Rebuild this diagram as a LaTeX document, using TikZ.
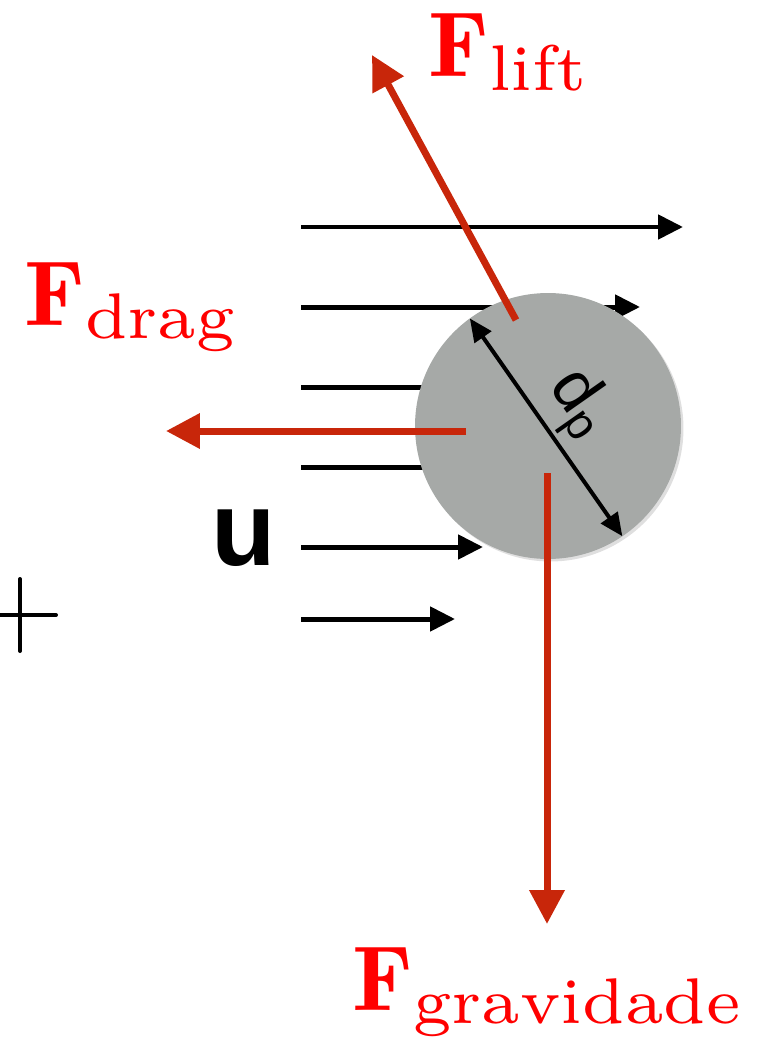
\RequirePackage{fix-cm}
\documentclass[tikz,border=0pt]{standalone}
\usepackage{fontspec}
\newfontfamily\helv{Liberation Sans}
\usepackage{xcolor}
\usetikzlibrary{arrows.meta, shadows, calc}
\definecolor{forcered}{RGB}{200,38,10}
\definecolor{labelred}{RGB}{255,0,0}
\definecolor{particlegray}{RGB}{166,169,167}
\newcommand{\forcelabel}[1]{\scalebox{5.5}[5.25]{$\mathbf{F}_{\mathrm{#1}}$}}

\begin{document}
\begin{tikzpicture}[
    x=0.02cm, y=-0.02cm,
    flow/.style={-{Triangle[length=0.5cm, width=0.48cm]}, line width=0.1cm},
    force/.style={-{Triangle[length=0.68cm, width=0.68cm]}, line width=0.14cm, draw=forcered},
    dimarr/.style={{Triangle[length=0.46cm, width=0.4cm]}-{Triangle[length=0.46cm, width=0.4cm]}, line width=0.08cm},
    particle/.style={circle, fill=particlegray, minimum size=5.32cm, inner sep=0pt, outer sep=0pt,
      drop shadow={opacity=0.25, shadow xshift=0.05cm, shadow yshift=-0.05cm}},
    flbl/.style={text=labelred, inner sep=0pt, anchor=base west, font=\fontsize{10}{12}\selectfont}
]
\useasboundingbox (0,0) rectangle (771,1037);
% reference cross on the left
\draw[line width=0.08cm, line cap=round] (0,615) -- (56,615) (20,579) -- (20,651);
% incoming flow profile
\foreach \y/\xe [count=\i] in {227/683, 307/640, 387/500, 467/500, 547/483, 619/455} {
  \coordinate (u\i-a) at (301,\y);
  \coordinate (u\i-b) at (\xe,\y);
  \draw[flow] (u\i-a) -- (u\i-b);
}
\node[inner sep=0pt, font=\helv\bfseries\fontsize{60}{66}\selectfont] (u) at (244,538) {u};
% the particle
\node[particle] (p) at (548,426) {};
% forces, each starting inside the particle
\coordinate (lift-a) at (516,320);
\coordinate (lift-b) at (372,55);
\coordinate (drag-a) at (466,431);
\coordinate (drag-b) at (166,431);
\coordinate (grav-a) at (547,473);
\coordinate (grav-b) at (547,924);
\draw[force] (lift-a) -- (lift-b);
\draw[force] (drag-a) -- (drag-b);
\draw[force] (grav-a) -- (grav-b);
% diameter
\draw[dimarr] (p.126) -- node[sloped, anchor=base, yshift=0.5cm, inner sep=0pt, font=\helv\fontsize{38}{44}\selectfont] (dp) {d\textsubscript{p}} (p.-56);
% force labels
\node[flbl] (flift) at (428,77) {\forcelabel{lift}};
\node[flbl] (fdrag) at (24,325) {\forcelabel{drag}};
\node[flbl] (fgrav) at (352,1010) {\forcelabel{gravidade}};
\end{tikzpicture}
\end{document}
